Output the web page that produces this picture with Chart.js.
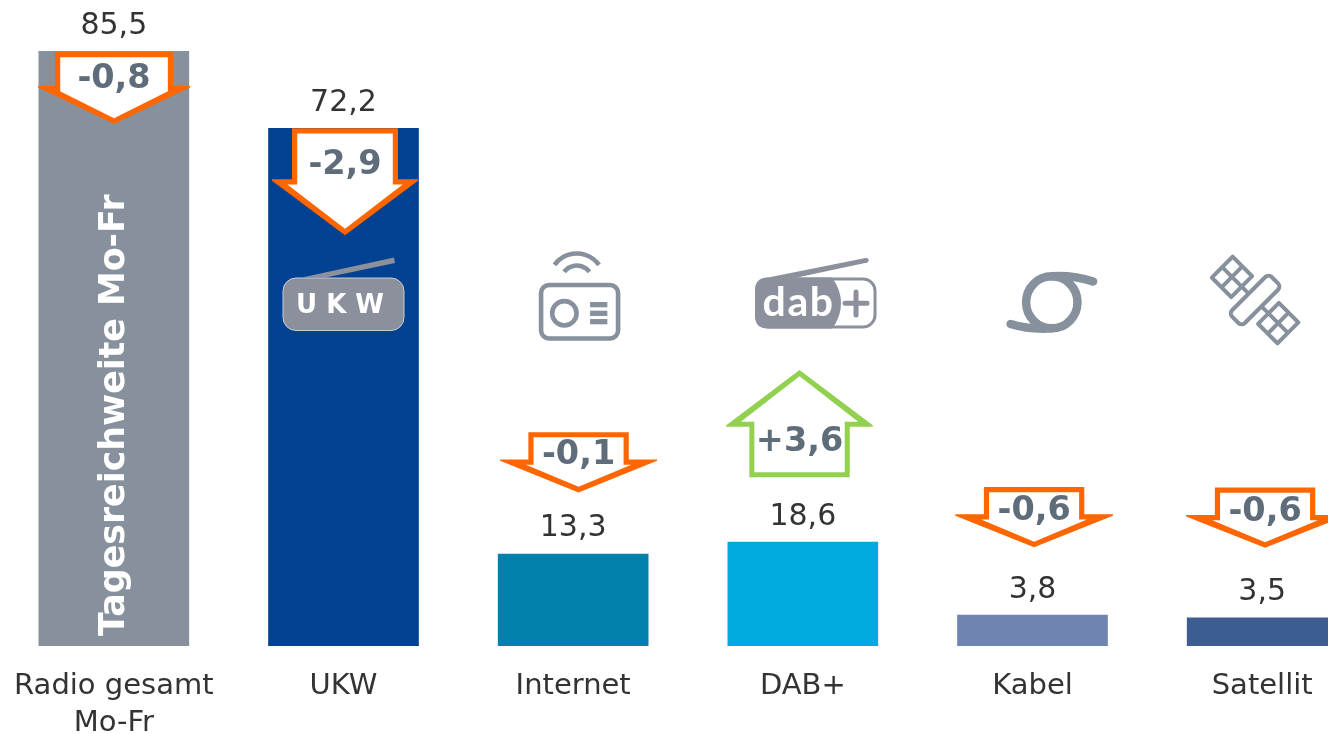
<!DOCTYPE html>
<html lang="de">
<head>
<meta charset="utf-8">
<title>Tagesreichweite Mo-Fr</title>
<script src="https://cdn.jsdelivr.net/npm/chart.js@4"></script>
<style>
html,body{margin:0;padding:0;width:1328px;height:734px;overflow:hidden;background:#fff}
canvas{position:absolute;left:-1px;top:0}
</style>
</head>
<body>
<canvas id="c" width="1378" height="734"></canvas>
<script>
const categories = [['Radio gesamt','Mo-Fr'],'UKW','Internet','DAB+','Kabel','Satellit'];
// Printed values, shown as the labels above the bars.
const printedValues = [85.5, 72.2, 13.3, 18.6, 3.8, 3.5];
// Bar heights as drawn in the reference, on the scale of the first bar.
// The reference does not draw its bars in proportion to the printed values.
const drawnHeights = [85.5, 74.4, 13.2, 14.95, 4.45, 4.05];
const changes = ['-0,8','-2,9','-0,1','+3,6','-0,6','-0,6'];
const barColors = ['#87919d','#004291','#0080ab','#00aadf','#6f84b0','#3d5c92'];
const sideTitle = 'Tagesreichweite Mo-Fr';

const ICON = '#87919d', ORANGE = '#ff6600', GREEN = '#92d14f', TXT = '#333333', CHG = '#5f6d7b';
const FONT = '"DejaVu Sans", sans-serif';
const labelGap = [17.5, 17.5, 18, 16.5, 17.5, 17.5];

// Arrow shapes, offset from each bar's centre and top edge.
const arrowShapes = [
  {dx:.2, top:1,    shaft:59,   head:76,   shoulder:34,   tip:72,   ty:36},
  {dx:1.5,top:0,    shaft:53,   head:73,   shoulder:51,   tip:107,  ty:46},
  {dx:5.4,top:-122, shaft:50.2, head:78.5, shoulder:27.3, tip:60.3, ty:32},
  {dx:-3.3,top:-172,shaft:50.2, head:73.3, shoulder:56.7, tail:107.3, ty:81.5},
  {dx:1.6,top:-128, shaft:50.2, head:78.8, shoulder:27.3, tip:60.3, ty:33},
  {dx:2.9,top:-130.3,shaft:50.2,head:79,   shoulder:27.6, tip:60.3, ty:33}
];

function poly(ctx, pts, fill){
  ctx.beginPath();
  pts.forEach((p,i)=> i ? ctx.lineTo(p[0],p[1]) : ctx.moveTo(p[0],p[1]));
  ctx.closePath(); ctx.fillStyle = fill; ctx.fill();
}
function downArrow(ctx, cx, y0, a){
  const t = 5.2, top=y0, sh=y0+a.shoulder, tip=y0+a.tip, b=1.4;
  poly(ctx,[[cx-a.shaft,top],[cx+a.shaft,top],[cx+a.shaft,sh],[cx+a.head,sh],[cx+a.head,sh+b],[cx,tip],[cx-a.head,sh+b],[cx-a.head,sh],[cx-a.shaft,sh]],ORANGE);
  const s=(tip-sh)/a.head, d=t*Math.sqrt(1+s*s), iy=sh+t, ih=(tip-d-iy)/s, sI=a.shaft-t;
  poly(ctx,[[cx-sI,top+t],[cx+sI,top+t],[cx+sI,iy],[cx+ih,iy],[cx,tip-d],[cx-ih,iy],[cx-sI,iy]],'#ffffff');
}
function upArrow(ctx, cx, y0, a){
  const t = 5, top=y0, sh=y0+a.shoulder, end=y0+a.tail, b=1.4;
  poly(ctx,[[cx,top],[cx+a.head,sh-b],[cx+a.head,sh],[cx+a.shaft,sh],[cx+a.shaft,end],[cx-a.shaft,end],[cx-a.shaft,sh],[cx-a.head,sh],[cx-a.head,sh-b]],GREEN);
  const s=(sh-top)/a.head, d=t*Math.sqrt(1+s*s), iy=sh-t, ih=(iy-top-d)/s, sI=a.shaft-t;
  poly(ctx,[[cx,top+d],[cx+ih,iy],[cx+sI,iy],[cx+sI,end-t],[cx-sI,end-t],[cx-sI,iy],[cx-ih,iy]],'#ffffff');
}
function rr(ctx,x,y,w,h,r){ctx.beginPath();ctx.roundRect(x,y,w,h,r);}

function iconUkw(ctx){
  poly(ctx,[[303,277.5],[395,257.5],[396,263],[327,277.5]],'#8b909c');
  rr(ctx,284,278,121,52.5,13); ctx.fillStyle='#8b909c'; ctx.fill();
  ctx.strokeStyle='#c9ccd3'; ctx.lineWidth=1; ctx.stroke();
  ctx.fillStyle='#fff'; ctx.font='bold 26px '+FONT; ctx.textAlign='center'; ctx.textBaseline='alphabetic';
  ctx.fillText('U K W',341,313);
}
function iconInternet(ctx){
  ctx.strokeStyle=ICON; ctx.fillStyle=ICON; ctx.lineWidth=4.6;
  rr(ctx,541,285,77,53.5,8); ctx.stroke();
  ctx.beginPath(); ctx.arc(564.3,313.3,12.2,0,Math.PI*2); ctx.stroke();
  [302,310.7,319].forEach(y=>ctx.fillRect(590,y,17.3,5.3));
  ctx.lineWidth=4.6;
  ctx.beginPath(); ctx.arc(576.7,281,27.5,Math.PI*1.2,Math.PI*1.8); ctx.stroke();
  ctx.beginPath(); ctx.arc(576.7,281,15.5,Math.PI*1.2,Math.PI*1.8); ctx.stroke();
}
function iconDab(ctx){
  const g='#8b909c';
  poly(ctx,[[768,277.5],[865.5,258],[867.5,262.5],[790,279]],g);
  ctx.beginPath(); ctx.arc(866.2,260.3,2.4,0,Math.PI*2); ctx.fillStyle=g; ctx.fill();
  rr(ctx,756.5,279,118.5,48,12); ctx.strokeStyle=g; ctx.lineWidth=3; ctx.stroke();
  ctx.beginPath();
  ctx.moveTo(768,277.5);ctx.lineTo(832,277.5);
  ctx.quadraticCurveTo(841,290,841,303);ctx.quadraticCurveTo(841,317,832,328.5);
  ctx.lineTo(768,328.5);ctx.quadraticCurveTo(755,328.5,755,316);ctx.lineTo(755,290);
  ctx.quadraticCurveTo(755,277.5,768,277.5);ctx.closePath();ctx.fillStyle=g;ctx.fill();
  ctx.fillStyle='#fff'; ctx.font='bold 41px Lato, sans-serif'; ctx.textAlign='center'; ctx.textBaseline='alphabetic';
  ctx.letterSpacing='1.5px';
  ctx.fillText('dab',798.5,316);
  ctx.letterSpacing='0px';
  ctx.strokeStyle=g; ctx.lineWidth=5; ctx.lineCap='round';
  ctx.beginPath();ctx.moveTo(845,303.3);ctx.lineTo(867,303.3);ctx.moveTo(856,292);ctx.lineTo(856,315);ctx.stroke();
  ctx.lineCap='butt';
}
function iconKabel(ctx){
  ctx.strokeStyle=ICON; ctx.lineWidth=8.5; ctx.lineCap='round';
  ctx.beginPath(); ctx.ellipse(1051.7,302.3,25.7,26,0,0,Math.PI*2); ctx.stroke();
  ctx.beginPath(); ctx.moveTo(1051.7,276.3); ctx.quadraticCurveTo(1073,275,1093,281.5); ctx.stroke();
  ctx.beginPath(); ctx.moveTo(1051.7,328.3); ctx.quadraticCurveTo(1030,330,1010.5,324); ctx.stroke();
  ctx.lineCap='butt';
}
function iconSatellit(ctx){
  ctx.save();
  ctx.translate(1255,300); ctx.rotate(-Math.PI/4);
  ctx.strokeStyle=ICON; ctx.lineWidth=4; ctx.lineJoin='round';
  rr(ctx,-28,-9,56,18,4.5); ctx.stroke();
  [-1,1].forEach(sg=>{
    const c=sg*32.7, w=29.5, h=27.5;
    ctx.strokeRect(-w/2,c-h/2,w,h);
    ctx.beginPath();
    ctx.moveTo(0,c-h/2);ctx.lineTo(0,c+h/2);
    ctx.moveTo(-w/2,c);ctx.lineTo(w/2,c);
    ctx.moveTo(0,sg*9);ctx.lineTo(0,c-sg*h/2);
    ctx.stroke();
  });
  ctx.restore();
}
const icons = [null,[344.5,iconUkw],[573.1,iconInternet],[802.8,iconDab],[1032.4,iconKabel],[1262.1,iconSatellit]];

const overlay = {
  id:'overlay',
  afterDatasetsDraw(chart){
    const {ctx, scales:{x,y}} = chart;
    ctx.save();
    categories.forEach((c,i)=>{
      const cx = x.getPixelForValue(i), barTop = y.getPixelForValue(drawnHeights[i]);
      if(icons[i]){ ctx.save(); ctx.translate(cx-icons[i][0],0); icons[i][1](ctx); ctx.restore(); }
      ctx.fillStyle=TXT; ctx.font='30px '+FONT; ctx.textAlign='center'; ctx.textBaseline='alphabetic';
      ctx.fillText(printedValues[i].toFixed(1).replace('.',','), cx, barTop-labelGap[i]);
      const a = arrowShapes[i], ax = cx+a.dx, ay = barTop+a.top;
      if(a.tail) upArrow(ctx,ax,ay,a); else downArrow(ctx,ax,ay,a);
      ctx.fillStyle=CHG; ctx.font='bold 33.5px '+FONT; ctx.textAlign='center'; ctx.textBaseline='alphabetic';
      ctx.fillText(changes[i], ax, ay+a.ty);
    });
    ctx.save();
    ctx.translate(x.getPixelForValue(0)+1, y.getPixelForValue(0)-10);
    ctx.rotate(-Math.PI/2);
    ctx.fillStyle='#fff'; ctx.font='bold 34.8px '+FONT; ctx.textAlign='left'; ctx.textBaseline='middle';
    ctx.fillText(sideTitle,0,0);
    ctx.restore();
    ctx.restore();
  }
};

new Chart(document.getElementById('c'),{
  type:'bar',
  plugins:[overlay],
  data:{labels:categories,datasets:[{data:drawnHeights,backgroundColor:barColors,barThickness:150,borderWidth:0}]},
  options:{
    responsive:false,animation:false,
    layout:{padding:{top:51,left:0,right:0,bottom:0}},
    plugins:{legend:{display:false},tooltip:{enabled:false},title:{display:false}},
    scales:{
      x:{
        grid:{display:false,drawTicks:false},border:{display:false},
        afterFit(s){s.height=88;s.paddingLeft=0;s.paddingRight=0;},
        ticks:{autoSkip:false,maxRotation:0,minRotation:0,padding:22,color:TXT,
          font:{family:'"DejaVu Sans", sans-serif',size:29,lineHeight:1.27}}
      },
      y:{display:false,min:0,max:85.5}
    }
  }
});
</script>
</body>
</html>
